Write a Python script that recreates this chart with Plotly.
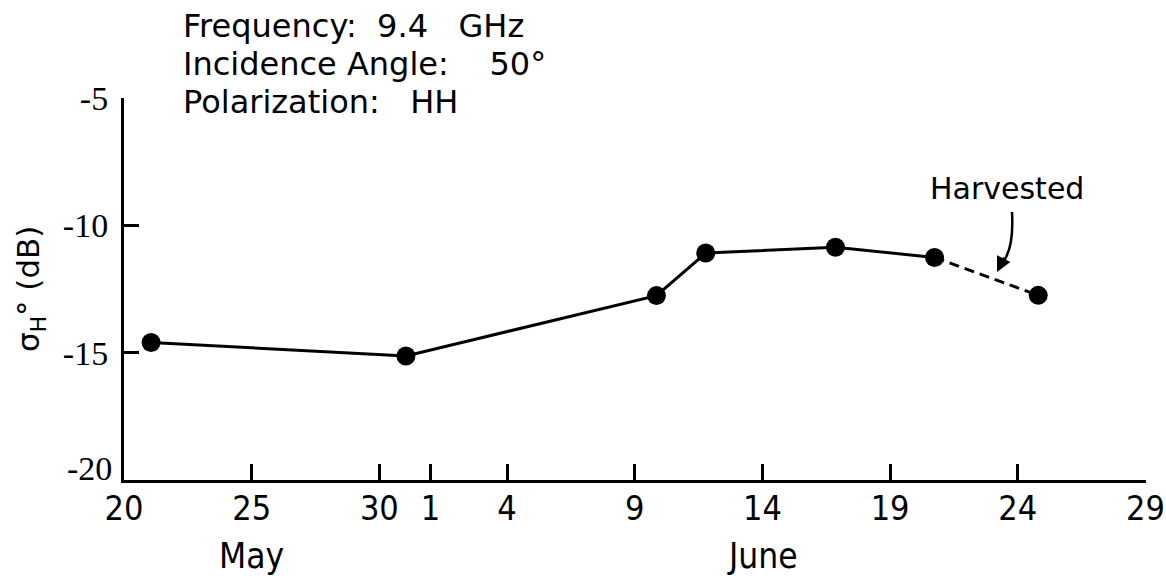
import plotly.graph_objects as go

# ---- data ----
days = [21.06, 31.04, 40.85, 42.78, 47.86, 51.74, 55.8]      # day index counted from May 0 (June 1 = 32)
sigma = [-14.6, -15.13, -12.76, -11.09, -10.86, -11.26, -12.75]
tick_days = [20, 25, 30, 32, 35, 40, 45, 50, 55, 60]
tick_text = ["20", "25", "30", "1", "4", "9", "14", "19", "24", "29"]
ytick_vals = [-20, -15, -10, -5]
ytick_text = ["", "-15", "-10", "-5"]   # "-20" drawn slightly raised, as in the original
bottom_ylabel = "-20"
month_labels = ["May", "June"]
month_pos = [25, 45]
info_lines = ["Frequency:  9.4   GHz", "Incidence Angle:    50°", "Polarization:   HH"]

# ---- layout geometry (pixels) ----
W, H = 1166, 576
L, R, T, B = 124, 20, 98, 96
pw, ph = W - L - R, H - T - B


def px(x):
    return (x - L) / pw


def py(y):
    return (H - B - y) / ph


SANS = "DejaVu Sans, sans-serif"
NARROW = "Liberation Sans Narrow, DejaVu Sans Condensed, sans-serif"
SERIF = "Liberation Serif, DejaVu Serif, serif"

fig = go.Figure()
fig.add_trace(go.Scatter(x=days[:6], y=sigma[:6], mode="lines",
                         line=dict(color="black", width=3), hoverinfo="skip"))
fig.add_trace(go.Scatter(x=days[5:], y=sigma[5:], mode="lines",
                         line=dict(color="black", width=3, dash="10px,6px"), hoverinfo="skip"))
fig.add_trace(go.Scatter(x=days, y=sigma, mode="markers",
                         marker=dict(color="black", size=19, line=dict(width=0))))

annotations = []
for i, txt in enumerate(info_lines):
    annotations.append(dict(text=txt, xref="paper", yref="paper", x=px(181), y=py(26 + 38 * i),
                            xanchor="left", yanchor="middle", showarrow=False,
                            font=dict(family=SANS, size=32, color="black")))
for lab, pos in zip(month_labels, month_pos):
    annotations.append(dict(text=lab, xref="x", yref="paper", x=pos, y=py(556),
                            xanchor="center", yanchor="middle", showarrow=False,
                            font=dict(family=NARROW, size=35, color="black")))
annotations.append(dict(text=bottom_ylabel, xref="paper", yref="paper", x=px(114), y=py(468),
                        xanchor="right", yanchor="middle", showarrow=False,
                        font=dict(family=SERIF, size=34, color="black")))
annotations.append(dict(text="σ<sub>H</sub>° (dB)", xref="paper", yref="paper", x=px(30), y=0.5,
                        xanchor="center", yanchor="middle", textangle=-90, showarrow=False,
                        font=dict(family=SANS, size=31, color="black")))
annotations.append(dict(text="Harvested", xref="paper", yref="paper", x=px(1007), y=py(188),
                        xanchor="center", yanchor="middle", showarrow=False,
                        font=dict(family=SANS, size=30, color="black")))
# arrow head of the curved pointer
annotations.append(dict(text="", xref="paper", yref="paper", x=px(997), y=py(272),
                        ax=8, ay=-16, axref="pixel", ayref="pixel",
                        showarrow=True, arrowhead=2, arrowsize=1.2, arrowwidth=2.5, arrowcolor="black"))

shapes = [dict(type="path", xref="paper", yref="paper",
               path=f"M {px(1012)},{py(212)} Q {px(1014)},{py(248)} {px(1003)},{py(262)}",
               line=dict(color="black", width=2.5))]

fig.update_layout(
    width=W, height=H,
    margin=dict(l=L, r=R, t=T, b=B, autoexpand=False),
    paper_bgcolor="white", plot_bgcolor="white",
    showlegend=False,
    annotations=annotations, shapes=shapes,
    xaxis=dict(range=[20, 60.02], tickvals=tick_days, ticktext=tick_text, automargin=False,
               ticks="inside", ticklen=16, tickwidth=2.5, tickcolor="black",
               showline=True, linewidth=3, linecolor="black", showgrid=False, zeroline=False,
               tickfont=dict(family=NARROW, size=34, color="black"), ticklabelstandoff=-4,
               ticklabeloverflow="allow"),
    yaxis=dict(range=[-20, -5], tickvals=ytick_vals, ticktext=ytick_text, automargin=False,
               ticks="inside", ticklen=15, tickwidth=2.5, tickcolor="black",
               showline=True, linewidth=3, linecolor="black", showgrid=False, zeroline=False,
               tickfont=dict(family=SERIF, size=34, color="black"), ticklabelstandoff=6),
)

fig.write_html("out.html")
